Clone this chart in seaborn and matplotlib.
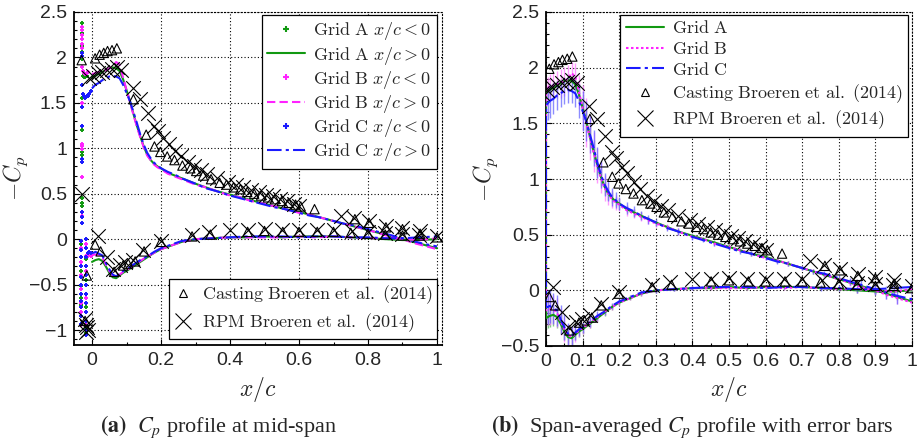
import matplotlib
matplotlib.use("Agg")
import matplotlib.pyplot as plt
import seaborn as sns
import numpy as np
from matplotlib.lines import Line2D
from matplotlib.ticker import MultipleLocator, FuncFormatter
from matplotlib.font_manager import FontProperties

# ---------------- data ----------------
# CFD suction side (x/c > 0)
x_up = [0.000, 0.005, 0.010, 0.020, 0.030, 0.040, 0.050, 0.060, 0.070, 0.080, 0.090, 0.100,
        0.110, 0.120, 0.130, 0.140, 0.150, 0.160, 0.170, 0.180, 0.190, 0.200, 0.220, 0.240,
        0.260, 0.280, 0.300, 0.330, 0.360, 0.400, 0.430, 0.460, 0.500, 0.530, 0.560, 0.600,
        0.630, 0.660, 0.700, 0.730, 0.760, 0.800, 0.830, 0.860, 0.900, 0.930, 0.960, 1.000]
cpA_up = [1.78, 1.79, 1.80, 1.82, 1.84, 1.86, 1.88, 1.89, 1.88, 1.85, 1.76, 1.64,
          1.52, 1.38, 1.25, 1.13, 1.02, 0.93, 0.87, 0.83, 0.80, 0.78, 0.73, 0.70,
          0.67, 0.64, 0.61, 0.57, 0.53, 0.49, 0.46, 0.43, 0.39, 0.36, 0.33, 0.30,
          0.27, 0.24, 0.20, 0.17, 0.14, 0.10, 0.07, 0.04, 0.00, -0.03, -0.06, -0.10]
cpB_up = [1.82, 1.82, 1.83, 1.84, 1.85, 1.86, 1.88, 1.90, 1.95, 1.92, 1.78, 1.64,
          1.51, 1.37, 1.24, 1.12, 1.01, 0.92, 0.87, 0.82, 0.79, 0.77, 0.72, 0.69,
          0.66, 0.63, 0.60, 0.57, 0.53, 0.48, 0.46, 0.42, 0.39, 0.36, 0.33, 0.29,
          0.27, 0.24, 0.20, 0.17, 0.14, 0.10, 0.07, 0.03, 0.00, -0.04, -0.07, -0.11]
cpC_up = [1.66, 1.68, 1.70, 1.72, 1.75, 1.77, 1.79, 1.80, 1.79, 1.77, 1.70, 1.61,
          1.52, 1.40, 1.28, 1.15, 1.04, 0.95, 0.89, 0.84, 0.81, 0.78, 0.74, 0.71,
          0.67, 0.64, 0.61, 0.56, 0.53, 0.48, 0.45, 0.42, 0.38, 0.35, 0.33, 0.29,
          0.26, 0.24, 0.20, 0.17, 0.15, 0.11, 0.08, 0.05, 0.01, -0.02, -0.05, -0.08]
errA_up = [0.04, 0.04, 0.04, 0.04, 0.04, 0.04, 0.04, 0.04, 0.04, 0.05, 0.08, 0.10,
           0.10, 0.10, 0.10, 0.09, 0.08, 0.07, 0.06, 0.05, 0.04, 0.04, 0.03, 0.03,
           0.03, 0.02, 0.02, 0.02, 0.02, 0.02, 0.02, 0.02, 0.02, 0.02, 0.02, 0.02,
           0.02, 0.02, 0.02, 0.02, 0.02, 0.02, 0.02, 0.02, 0.02, 0.02, 0.03, 0.04]
errB_up = [0.10, 0.10, 0.11, 0.12, 0.12, 0.13, 0.13, 0.12, 0.10, 0.12, 0.15, 0.20,
           0.22, 0.20, 0.18, 0.16, 0.14, 0.12, 0.10, 0.08, 0.07, 0.06, 0.05, 0.04,
           0.04, 0.03, 0.03, 0.03, 0.03, 0.02, 0.02, 0.02, 0.02, 0.02, 0.02, 0.02,
           0.02, 0.02, 0.02, 0.02, 0.02, 0.02, 0.03, 0.03, 0.03, 0.04, 0.05, 0.06]
errC_up = [0.14, 0.15, 0.15, 0.14, 0.13, 0.12, 0.12, 0.12, 0.11, 0.12, 0.15, 0.18,
           0.18, 0.17, 0.16, 0.14, 0.12, 0.10, 0.09, 0.08, 0.07, 0.06, 0.05, 0.05,
           0.04, 0.04, 0.03, 0.03, 0.03, 0.03, 0.02, 0.02, 0.02, 0.02, 0.02, 0.02,
           0.02, 0.02, 0.02, 0.02, 0.02, 0.03, 0.03, 0.04, 0.05, 0.06, 0.07, 0.09]

# CFD pressure side (x/c > 0)
x_lo = [0.000, 0.005, 0.010, 0.020, 0.030, 0.040, 0.050, 0.060, 0.070, 0.080, 0.090, 0.100,
        0.120, 0.140, 0.160, 0.180, 0.200, 0.230, 0.260, 0.300, 0.350, 0.400, 0.450, 0.500,
        0.550, 0.600, 0.650, 0.700, 0.750, 0.800, 0.850, 0.900, 0.950, 1.000]
cpA_lo = [-0.25, -0.24, -0.23, -0.22, -0.24, -0.30, -0.37, -0.42, -0.43, -0.40, -0.37, -0.35,
          -0.30, -0.25, -0.20, -0.15, -0.11, -0.07, -0.03, 0.00, 0.01, 0.02, 0.02, 0.03,
          0.02, 0.03, 0.03, 0.03, 0.02, 0.01, 0.00, -0.01, -0.01, 0.00]
cpB_lo = [-0.18, -0.17, -0.17, -0.17, -0.20, -0.28, -0.35, -0.40, -0.42, -0.39, -0.36, -0.34,
          -0.29, -0.24, -0.19, -0.15, -0.11, -0.07, -0.03, 0.00, 0.01, 0.02, 0.02, 0.02,
          0.02, 0.03, 0.02, 0.03, 0.02, 0.01, 0.01, 0.00, -0.01, 0.01]
cpC_lo = [-0.15, -0.15, -0.14, -0.16, -0.18, -0.26, -0.33, -0.39, -0.41, -0.38, -0.35, -0.33,
          -0.28, -0.23, -0.19, -0.14, -0.10, -0.06, -0.02, 0.00, 0.01, 0.02, 0.03, 0.03,
          0.03, 0.02, 0.03, 0.03, 0.02, 0.02, 0.01, 0.01, 0.02, 0.03]
errA_lo = [0.10, 0.10, 0.10, 0.10, 0.10, 0.09, 0.08, 0.07, 0.06, 0.05, 0.05, 0.04,
           0.04, 0.03, 0.03, 0.03, 0.02, 0.02, 0.02, 0.02, 0.02, 0.02, 0.02, 0.02,
           0.02, 0.02, 0.02, 0.02, 0.02, 0.02, 0.02, 0.02, 0.03, 0.04]
errB_lo = [0.14, 0.14, 0.14, 0.13, 0.13, 0.12, 0.11, 0.10, 0.09, 0.07, 0.06, 0.05,
           0.05, 0.04, 0.03, 0.03, 0.02, 0.02, 0.02, 0.02, 0.02, 0.02, 0.02, 0.02,
           0.02, 0.02, 0.02, 0.02, 0.02, 0.02, 0.03, 0.03, 0.04, 0.06]
errC_lo = [0.15, 0.15, 0.15, 0.14, 0.14, 0.13, 0.12, 0.10, 0.09, 0.07, 0.06, 0.05,
           0.05, 0.04, 0.03, 0.03, 0.02, 0.02, 0.02, 0.02, 0.02, 0.02, 0.02, 0.02,
           0.02, 0.02, 0.02, 0.02, 0.03, 0.03, 0.03, 0.04, 0.06, 0.09]

# CFD points with x/c < 0 (mid-span)
xA_neg = [-0.030, -0.030, -0.030, -0.030, -0.030, -0.030, -0.030, -0.030, -0.030, -0.030,
          -0.030, -0.030, -0.030, -0.027, -0.024, -0.021, -0.018, -0.015,
          -0.031, -0.031, -0.031, -0.031, -0.031, -0.031, -0.031, -0.031,
          -0.016, -0.016, -0.016, -0.016, -0.016, -0.016, -0.016, -0.016]
cpA_neg = [2.38, 2.27, 2.13, 2.06, 1.98, 1.55, 1.20, 0.99, 0.96, 0.93,
           0.45, 0.40, 0.36, 1.80, 1.79, 1.79, 1.80, 1.80,
           -0.05, -0.20, -0.35, -0.52, -0.60, -0.65, -0.72, -0.85,
           -0.22, -0.30, -0.45, -0.60, -0.75, -0.90, -0.98, -1.03]
xB_neg = [-0.030, -0.030, -0.030, -0.030, -0.030, -0.030, -0.030, -0.030, -0.030, -0.030,
          -0.030, -0.030, -0.030, -0.030, -0.027, -0.024, -0.021, -0.018, -0.015, -0.012,
          -0.031, -0.031, -0.031, -0.031, -0.031, -0.031, -0.031, -0.031,
          -0.016, -0.016, -0.016, -0.016, -0.016, -0.016, -0.016,
          -0.012, -0.008, -0.004]
cpB_neg = [2.33, 2.30, 2.25, 2.20, 2.15, 2.10, 1.90, 1.50, 1.05, 1.02,
           0.99, 0.68, 0.30, 0.26, 1.85, 1.83, 1.82, 1.82, 1.83, 1.84,
           -0.02, -0.10, -0.25, -0.40, -0.55, -0.70, -0.80, -0.95,
           -0.05, -0.18, -0.35, -0.50, -0.65, -0.80, -0.95,
           -0.18, -0.17, -0.18]
xC_neg = [-0.030, -0.030, -0.030, -0.030, -0.030, -0.030, -0.030, -0.030, -0.030, -0.030,
          -0.027, -0.024, -0.021, -0.018, -0.015, -0.012, -0.008, -0.004,
          -0.031, -0.031, -0.031, -0.031, -0.031, -0.031, -0.031, -0.031, -0.031, -0.031, -0.031,
          -0.016, -0.016, -0.016, -0.016, -0.016, -0.016, -0.016, -0.016, -0.016, -0.016, -0.016, -0.016,
          -0.012, -0.008, -0.004]
cpC_neg = [2.05, 2.02, 1.70, 1.45, 1.25, 0.88, 0.85, 0.30, 0.24, 0.18,
           1.60, 1.57, 1.55, 1.56, 1.57, 1.58, 1.60, 1.63,
           -0.02, -0.12, -0.20, -0.30, -0.42, -0.50, -0.60, -0.68, -0.75, -0.85, -0.93,
           0.00, -0.10, -0.20, -0.30, -0.40, -0.50, -0.60, -0.70, -0.80, -0.90, -1.00, -1.05,
           -0.15, -0.14, -0.15]

# Experiments (Broeren et al. 2014)
cast_x = [-0.030, 0.009, 0.022, 0.034, 0.045, 0.058, 0.072, 0.120, 0.157, 0.181, 0.198, 0.218,
          0.239, 0.262, 0.285, 0.302, 0.322, 0.345, 0.370, 0.390, 0.410, 0.430, 0.450, 0.470,
          0.490, 0.510, 0.530, 0.550, 0.570, 0.590, 0.605, 0.645, 0.762, 0.803, 0.852, 0.900,
          0.951, 1.000,
          -0.015, -0.020, 0.009, 0.025, 0.064, 0.090, 0.105, 0.125, 0.151, 0.199, 0.290, 0.343,
          0.451, 0.500, 0.553, 0.600, 0.653, 0.700, 0.750, 0.800, 0.850, 0.900, 0.950]
cast_cp = [1.97, 1.99, 2.03, 2.05, 2.07, 2.08, 2.10, 1.54, 1.15, 1.02, 0.96, 0.91,
           0.87, 0.81, 0.78, 0.75, 0.70, 0.66, 0.62, 0.60, 0.57, 0.55, 0.52, 0.50,
           0.48, 0.46, 0.44, 0.42, 0.40, 0.38, 0.36, 0.33, 0.22, 0.18, 0.13, 0.11,
           0.06, 0.02,
           -0.40, -0.90, -0.06, -0.135, -0.36, -0.29, -0.27, -0.245, -0.135, -0.03, 0.03, 0.05,
           0.08, 0.09, 0.08, 0.08, 0.08, 0.08, 0.07, 0.06, 0.05, 0.04, 0.04]
rpm_x = [-0.030, -0.010, 0.004, 0.016, 0.030, 0.043, 0.057, 0.072, 0.085, 0.118, 0.140, 0.161,
         0.180, 0.190, 0.207, 0.222, 0.241, 0.257, 0.277, 0.295, 0.315, 0.334, 0.361, 0.393,
         0.416, 0.439, 0.462, 0.485, 0.505, 0.525, 0.545, 0.565, 0.585, 0.600, 0.721, 0.760,
         0.803, 0.852, 0.900, 0.951,
         -0.020, -0.016, -0.012, -0.018, -0.014, 0.018, 0.043, 0.061, 0.082, 0.097, 0.120, 0.149,
         0.199, 0.290, 0.339, 0.400, 0.451, 0.500, 0.550, 0.600, 0.651, 0.700, 0.753, 0.800,
         0.849, 0.898, 0.949, 0.999]
rpm_cp = [0.50, 1.77, 1.80, 1.83, 1.84, 1.86, 1.87, 1.89, 1.86, 1.66, 1.54, 1.39,
          1.24, 1.19, 1.11, 1.05, 0.97, 0.91, 0.85, 0.80, 0.76, 0.72, 0.67, 0.63,
          0.60, 0.57, 0.545, 0.52, 0.49, 0.47, 0.44, 0.42, 0.39, 0.36, 0.26, 0.23,
          0.195, 0.15, 0.12, 0.09,
          -0.88, -0.95, -1.00, -1.02, -0.97, 0.03, -0.195, -0.33, -0.285, -0.255, -0.225, -0.12,
          -0.015, 0.045, 0.075, 0.105, 0.105, 0.11, 0.10, 0.10, 0.10, 0.10, 0.09, 0.08,
          0.07, 0.06, 0.05, 0.04]

labels_a = [r"$\mathrm{Grid\ A}\ x/c < 0$", r"$\mathrm{Grid\ A}\ x/c > 0$",
            r"$\mathrm{Grid\ B}\ x/c < 0$", r"$\mathrm{Grid\ B}\ x/c > 0$",
            r"$\mathrm{Grid\ C}\ x/c < 0$", r"$\mathrm{Grid\ C}\ x/c > 0$"]
labels_exp = [r"$\mathrm{Casting\ Broeren\ et\ al.\ (2014)}$",
              r"$\mathrm{RPM\ Broeren\ et\ al.\ (2014)}$"]
labels_b = [r"$\mathrm{Grid\ A}$", r"$\mathrm{Grid\ B}$", r"$\mathrm{Grid\ C}$"]

# ---------------- style ----------------
sns.set_style("ticks")
plt.rcParams["font.family"] = ["Liberation Sans", "DejaVu Sans"]
plt.rcParams["mathtext.fontset"] = "cm"

cA, cB, cC = "#119911", "#ff22ff", "#1a1aff"
cA_e, cB_e, cC_e = "#55bb55", "#ff77ff", "#6666ff"

fig = plt.figure(figsize=(9.19, 4.45), dpi=100)
ax1 = fig.add_axes([74 / 919, 1 - 345 / 445, (442 - 74) / 919, (345 - 12) / 445])
ax2 = fig.add_axes([546 / 919, 1 - 346 / 445, (912 - 546) / 919, (346 - 12) / 445])

fmt = FuncFormatter(lambda v, p: f"{v:g}".replace("-", "\u2212"))
leg_prop = FontProperties(size=13, math_fontfamily="cm")


def style_axes(ax, xmaj, xmin, ylab_x):
    ax.grid(True, which="major", linestyle=(0, (1, 2)), color="black", linewidth=0.8)
    ax.xaxis.set_major_locator(MultipleLocator(xmaj))
    ax.xaxis.set_minor_locator(MultipleLocator(xmin))
    ax.yaxis.set_major_locator(MultipleLocator(0.5))
    ax.yaxis.set_minor_locator(MultipleLocator(0.1))
    ax.xaxis.set_major_formatter(fmt)
    ax.yaxis.set_major_formatter(fmt)
    ax.tick_params(which="both", direction="in", top=False, right=False,
                   labelsize=14, width=0.8, color="black")
    ax.tick_params(which="major", length=4, pad=5)
    ax.tick_params(which="minor", length=2)
    for s in ["left", "bottom"]:
        ax.spines[s].set_linewidth(1.3)
        ax.spines[s].set_color("black")
    for s in ["top", "right"]:
        ax.spines[s].set_linestyle((0, (1, 2)))
        ax.spines[s].set_linewidth(0.8)
        ax.spines[s].set_color("black")
    ax.set_xlabel(r"$x/c$", fontsize=17, labelpad=4)
    ax.set_ylabel(r"$-C_p$", fontsize=17)
    ax.yaxis.set_label_coords(ylab_x, 0.5)


# ---------------- panel (a) ----------------
ax = ax1
for xs, ys, c in [(xA_neg, cpA_neg, cA), (xB_neg, cpB_neg, cB), (xC_neg, cpC_neg, cC)]:
    sns.scatterplot(x=xs, y=ys, ax=ax, marker="+", color=c, s=10, linewidth=1.4, zorder=3)
for xs, ys, c, ls in [(x_up, cpA_up, cA, "-"), (x_up, cpB_up, cB, (0, (4, 2))),
                      (x_up, cpC_up, cC, (0, (7, 2, 1.5, 2)))]:
    sns.lineplot(x=xs, y=ys, ax=ax, color=c, linestyle=ls, linewidth=1.5,
                 sort=False, estimator=None, zorder=3)
for xs, ys, c, ls in [(x_lo, cpA_lo, cA, "-"), (x_lo, cpB_lo, cB, (0, (4, 2))),
                      (x_lo, cpC_lo, cC, (0, (7, 2, 1.5, 2)))]:
    sns.lineplot(x=xs, y=ys, ax=ax, color=c, linestyle=ls, linewidth=1.5,
                 sort=False, estimator=None, zorder=3)
sns.scatterplot(x=cast_x, y=cast_cp, ax=ax, marker="^", facecolor="none",
                edgecolor="black", s=45, linewidth=0.8, zorder=4)
sns.scatterplot(x=rpm_x, y=rpm_cp, ax=ax, marker="x", color="black",
                s=110, linewidth=0.8, zorder=4)
ax.set_xlim(-0.0522, 1.0145)
ax.set_ylim(-1.165, 2.5)
style_axes(ax, 0.2, 0.1, (30 - 74) / 368)

h1 = [Line2D([], [], color=cA, marker="+", linestyle="none", ms=4, mew=1.5),
      Line2D([], [], color=cA, linestyle="-", lw=1.5),
      Line2D([], [], color=cB, marker="+", linestyle="none", ms=4, mew=1.5),
      Line2D([], [], color=cB, linestyle=(0, (4, 2)), lw=1.5),
      Line2D([], [], color=cC, marker="+", linestyle="none", ms=4, mew=1.5),
      Line2D([], [], color=cC, linestyle=(0, (7, 2, 1.5, 2)), lw=1.5)]
leg1 = ax.legend(h1, labels_a, loc="upper right", bbox_to_anchor=(437 / 919, 1 - 15 / 445),
                 bbox_transform=fig.transFigure, borderaxespad=0, prop=leg_prop,
                 frameon=True, fancybox=False, edgecolor="black", framealpha=1,
                 handlelength=2.1, labelspacing=0.12, borderpad=0.3, handletextpad=0.45)
leg1.get_frame().set_linewidth(0.9)
ax.add_artist(leg1)
h2 = [Line2D([], [], color="black", marker="^", mfc="none", linestyle="none", ms=6, mew=0.8),
      Line2D([], [], color="black", marker="x", linestyle="none", ms=12, mew=0.8)]
leg2 = ax.legend(h2, labels_exp, loc="lower right", bbox_to_anchor=(437 / 919, 1 - 339 / 445),
                 bbox_transform=fig.transFigure, borderaxespad=0, prop=leg_prop,
                 frameon=True, fancybox=False, edgecolor="black", framealpha=1,
                 handlelength=1.1, labelspacing=0.3, borderpad=0.25, handletextpad=0.45)
leg2.get_frame().set_linewidth(0.9)

# ---------------- panel (b) ----------------
ax = ax2
for xs, ys, es, c in [(x_up, cpA_up, errA_up, cA_e), (x_up, cpB_up, errB_up, cB_e),
                      (x_up, cpC_up, errC_up, cC_e), (x_lo, cpA_lo, errA_lo, cA_e),
                      (x_lo, cpB_lo, errB_lo, cB_e), (x_lo, cpC_lo, errC_lo, cC_e)]:
    ax.errorbar(xs, ys, yerr=es, fmt="none", ecolor=c, elinewidth=1.0, alpha=0.75, zorder=2)
for xl, yl, xu, yu, c, ls in [(x_lo, cpA_lo, x_up, cpA_up, cA, "-"),
                              (x_lo, cpB_lo, x_up, cpB_up, cB, (0, (1.2, 1.2))),
                              (x_lo, cpC_lo, x_up, cpC_up, cC, (0, (7, 2, 1.5, 2)))]:
    sns.lineplot(x=list(xl[::-1]) + list(xu), y=list(yl[::-1]) + list(yu), ax=ax,
                 color=c, linestyle=ls, linewidth=1.5, sort=False, estimator=None, zorder=3)
sns.scatterplot(x=cast_x, y=cast_cp, ax=ax, marker="^", facecolor="none",
                edgecolor="black", s=45, linewidth=0.8, zorder=4)
sns.scatterplot(x=rpm_x, y=rpm_cp, ax=ax, marker="x", color="black",
                s=110, linewidth=0.8, zorder=4)
ax.set_xlim(0, 1)
ax.set_ylim(-0.5, 2.5)
style_axes(ax, 0.1, 0.05, (500 - 546) / 366)

h3 = [Line2D([], [], color=cA, linestyle="-", lw=1.5),
      Line2D([], [], color=cB, linestyle=(0, (1.2, 1.2)), lw=1.5),
      Line2D([], [], color=cC, linestyle=(0, (7, 2, 1.5, 2)), lw=1.5),
      Line2D([], [], color="black", marker="^", mfc="none", linestyle="none", ms=6, mew=0.8),
      Line2D([], [], color="black", marker="x", linestyle="none", ms=12, mew=0.8)]
leg3 = ax.legend(h3, labels_b + labels_exp, loc="upper right",
                 bbox_to_anchor=(908 / 919, 1 - 15 / 445), bbox_transform=fig.transFigure,
                 borderaxespad=0, prop=leg_prop, frameon=True, fancybox=False,
                 edgecolor="black", framealpha=1, handlelength=2.1, labelspacing=0.2,
                 borderpad=0.3, handletextpad=0.45)
leg3.get_frame().set_linewidth(0.9)

# ---------------- captions ----------------
cap_font = dict(family=["Liberation Serif", "DejaVu Serif"], fontsize=16, math_fontfamily="stix",
                ha="center", va="center")
fig.text(219 / 919, 1 - 427 / 445, r"$\mathbf{(a)}$  $C_p$ profile at mid-span", **cap_font)
fig.text(692 / 919, 1 - 427 / 445, r"$\mathbf{(b)}$  Span-averaged $C_p$ profile with error bars",
         **cap_font)

fig.savefig("out.png", dpi=100)
